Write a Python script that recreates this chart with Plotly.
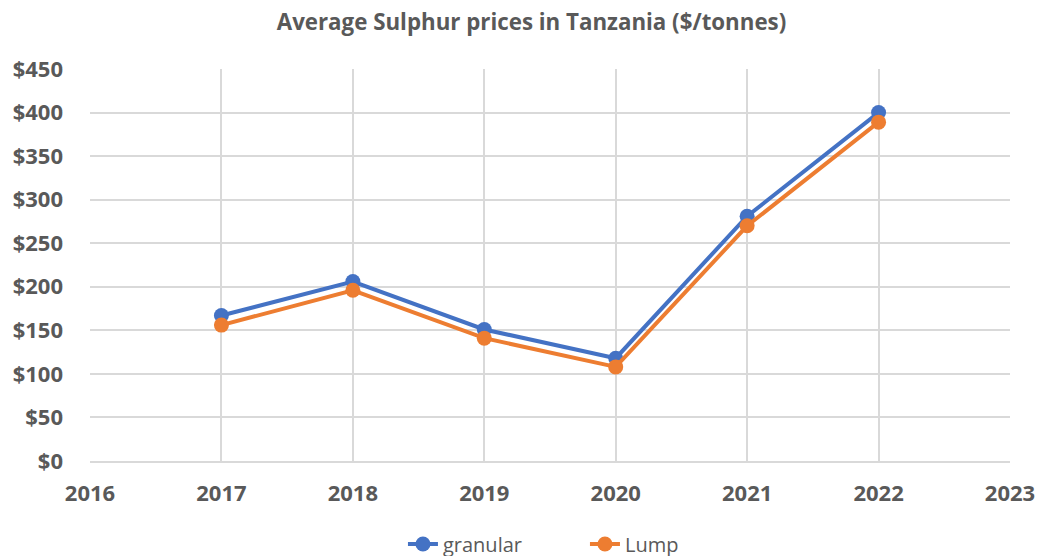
import plotly.graph_objects as go

years = [2017, 2018, 2019, 2020, 2021, 2022]
granular = [167, 206, 151, 118, 281, 400]
lump = [156, 196, 141, 108, 270, 389]

BLUE = "#4472C4"
ORANGE = "#ED7D31"
GRAY = "#595959"
GRID = "#D9D9D9"
FONT = "Open Sans"

fig = go.Figure()
fig.add_trace(go.Scatter(x=years, y=granular, name="granular", mode="lines+markers",
                         line=dict(color=BLUE, width=4), marker=dict(size=15, color=BLUE)))
fig.add_trace(go.Scatter(x=years, y=lump, name="Lump", mode="lines+markers",
                         line=dict(color=ORANGE, width=4), marker=dict(size=15, color=ORANGE)))

# page body adds ~8px offset, margins compensate for it
fig.update_layout(
    width=1047, height=556,
    paper_bgcolor="white", plot_bgcolor="white",
    margin=dict(l=82, r=45, t=61, b=103),
    title=dict(text="Average Sulphur prices in Tanzania ($/tonnes)", x=0.5, xanchor="center",
               y=1 - 14 / 556, yanchor="middle",
               font=dict(family=FONT, size=22.3, color=GRAY, weight="bold")),
    font=dict(family=FONT, color=GRAY),
    legend=dict(orientation="h", x=0.538, xanchor="center", yref="container", y=0.036, yanchor="middle",
                entrywidth=137, entrywidthmode="pixels",
                font=dict(family=FONT, size=20, color=GRAY)),
    showlegend=True,
)
fig.update_xaxes(range=[2016, 2023], dtick=1, tick0=2016, showgrid=True, gridcolor=GRID, gridwidth=1.5,
                 showline=True, linecolor=GRID, linewidth=1.5, zeroline=False, ticks="",
                 ticklabelstandoff=12, automargin=False,
                 tickfont=dict(family=FONT, size=22, color=GRAY, weight="bold"))
fig.update_yaxes(range=[0, 450], dtick=50, tickprefix="$", showgrid=True, gridcolor=GRID, gridwidth=1.5,
                 zeroline=False, ticks="", ticklabelstandoff=26, automargin=False,
                 tickfont=dict(family=FONT, size=22, color=GRAY, weight="bold"))

fig.write_html("out.html")
